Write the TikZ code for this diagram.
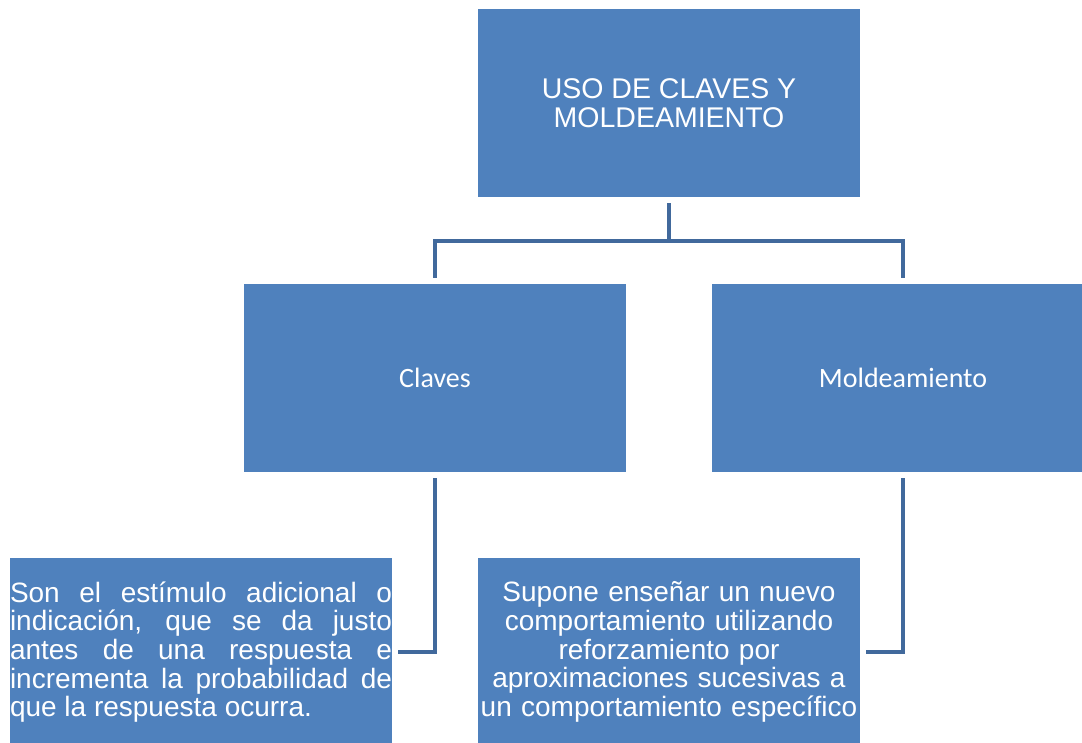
\documentclass[tikz,border=0pt]{standalone}
\usepackage{fontspec}
\setmainfont{Liberation Sans}
\newfontfamily\carlito{Carlito}
\definecolor{boxblue}{HTML}{4F81BD}
\definecolor{linkblue}{HTML}{41699C}
\begin{document}
\begin{tikzpicture}[x=1pt,y=-1pt,
                    box node/.style={rectangle,fill=boxblue,text=white,inner sep=0pt,
                                     minimum width=382pt,minimum height=188pt},
                    link/.style={draw=linkblue,line width=4.5pt,line join=miter}
                   ]
  \useasboundingbox (0,0) rectangle (1082,743);
  \clip (0,0) rectangle (1082,743);
  \node[box node,align=center,font=\fontsize{28.5}{29}\selectfont] (uso) at (669,103)
       {USO DE CLAVES Y\\MOLDEAMIENTO};
  \node[box node,font=\carlito\fontsize{28}{30}\selectfont] (claves) at (435,378) {Claves};
  \node[box node,font=\carlito\fontsize{28}{30}\selectfont] (molde) at (903,378) {Moldeamiento};
  \node[box node,text width=382pt,align=justify,font=\fontsize{28}{28.7}\selectfont] (estimulo) at (201,652)
       {Son el estímulo adicional o\linebreak indicación, que se da justo\linebreak antes de una respuesta e\linebreak incrementa la probabilidad de\linebreak que la respuesta ocurra.};
  \node[box node,text width=382pt,align=center,font=\fontsize{28}{28.7}\selectfont] (supone) at (669,652)
       {Supone enseñar un nuevo\\comportamiento utilizando\\reforzamiento por\\aproximaciones sucesivas a\\un comportamiento específico};
  \coordinate (split) at (669,241);

  \draw[link] ([yshift=-6pt]uso.south) -- (split);
  \draw[link] ([yshift=6pt]claves.north) |- (split) -| ([yshift=6pt]molde.north);
  \draw[link] ([yshift=-6pt]claves.south) |- ([xshift=6pt]estimulo.east);
  \draw[link] ([yshift=-6pt]molde.south) |- ([xshift=6pt]supone.east);
\end{tikzpicture}
\end{document}
